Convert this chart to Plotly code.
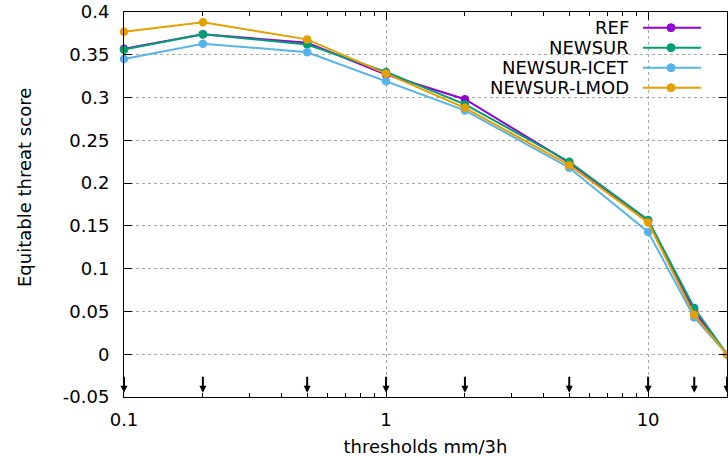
import math
import plotly.graph_objects as go

thresholds = [0.1, 0.2, 0.5, 1, 2, 5, 10, 15, 20]
series_names = ["REF", "NEWSUR", "NEWSUR-ICET", "NEWSUR-LMOD"]
ref = [0.357, 0.374, 0.364, 0.327, 0.298, 0.224, 0.156, 0.050, 0.0]
newsur = [0.356, 0.374, 0.362, 0.330, 0.292, 0.225, 0.157, 0.054, 0.0]
icet = [0.345, 0.363, 0.353, 0.319, 0.285, 0.218, 0.143, 0.043, 0.0]
lmod = [0.377, 0.388, 0.368, 0.328, 0.288, 0.221, 0.154, 0.046, 0.0]
colors = ["#9400d3", "#009e73", "#56b4e9", "#e69f00"]
yticks = [-0.05, 0, 0.05, 0.1, 0.15, 0.2, 0.25, 0.3, 0.35, 0.4]
ytick_text = ["-0.05", "0", "0.05", "0.1", "0.15", "0.2", "0.25", "0.3", "0.35", "0.4"]
xticks = [0.1, 1, 10]
xtick_text = ["0.1", "1", "10"]
x_title = "thresholds mm/3h"
y_title = "Equitable threat score"

W, H = 728, 457
ML, MR, MT, MB = 124, 1, 12, 60
FONT = "DejaVu Sans"
FS = 18

fig = go.Figure()
for name, vals, c in zip(series_names, [ref, newsur, icet, lmod], colors):
    fig.add_trace(go.Scatter(x=thresholds, y=vals, mode="lines+markers", name=name,
                             line=dict(color=c, width=2),
                             marker=dict(color=c, size=8.5, symbol="circle"),
                             cliponaxis=False, showlegend=False))

# arrows at each threshold
for t in thresholds:
    fig.add_annotation(x=math.log10(t), y=-0.045, ax=math.log10(t), ay=-0.0245,
                       xref="x", yref="y", axref="x", ayref="y",
                       showarrow=True, arrowhead=2, arrowsize=0.7, arrowwidth=2,
                       arrowcolor="black", text="")

pw = W - ML - MR
ph = H - MT - MB
def px2paper_x(px):
    return (px - ML) / pw
def px2paper_y(py):
    return 1 - (py - MT) / ph

# gnuplot-like legend (text left of line sample)
leg_y = [27.7, 47.7, 67.7, 87.7]
for name, c, yy in zip(series_names, colors, leg_y):
    fig.add_annotation(x=px2paper_x(631), y=px2paper_y(yy), xref="paper", yref="paper",
                       text=name, showarrow=False, xanchor="right", yanchor="middle",
                       font=dict(family=FONT, size=FS, color="#000000"))
    fig.add_shape(type="line", xref="paper", yref="paper",
                  x0=px2paper_x(643), x1=px2paper_x(701), y0=px2paper_y(yy), y1=px2paper_y(yy),
                  line=dict(color=c, width=2))
    r = 4
    fig.add_shape(type="circle", xref="paper", yref="paper",
                  x0=px2paper_x(671 - r), x1=px2paper_x(671 + r),
                  y0=px2paper_y(yy + r), y1=px2paper_y(yy - r),
                  fillcolor=c, line=dict(color=c, width=1))

# y axis title
fig.add_annotation(x=px2paper_x(25), y=px2paper_y(188), xref="paper", yref="paper",
                   text=y_title, textangle=-90, showarrow=False,
                   xanchor="center", yanchor="middle",
                   font=dict(family=FONT, size=FS, color="#000000"))

fig.update_layout(
    width=W, height=H,
    margin=dict(l=ML, r=MR, t=MT, b=MB, autoexpand=False),
    paper_bgcolor="white", plot_bgcolor="white",
    font=dict(family=FONT, size=FS, color="#000000"),
    showlegend=False,
)
fig.update_xaxes(
    type="log", range=[-1, math.log10(20)], automargin=False,
    tickvals=xticks, ticktext=xtick_text,
    ticks="inside", ticklen=8, tickwidth=1, tickcolor="black",
    showline=True, linecolor="black", linewidth=1, mirror="allticks",
    showgrid=True, gridcolor="#a8a8a8", griddash="dot", gridwidth=1,
    zeroline=False,
    minor=dict(ticks="inside", ticklen=4, tickcolor="black",
               tickvals=[0.2, 0.3, 0.4, 0.5, 0.6, 0.7, 0.8, 0.9, 2, 3, 4, 5, 6, 7, 8, 9],
               showgrid=False),
    title=dict(text=x_title, standoff=12, font=dict(size=FS)),
    tickfont=dict(size=FS),
    ticklabelstandoff=6,
)
fig.update_yaxes(
    range=[-0.05, 0.4], automargin=False,
    tickvals=yticks, ticktext=ytick_text,
    ticks="inside", ticklen=8, tickwidth=1, tickcolor="black",
    showline=True, linecolor="black", linewidth=1, mirror="allticks",
    showgrid=True, gridcolor="#a8a8a8", griddash="dot", gridwidth=1,
    zeroline=False,
    tickfont=dict(size=FS),
    ticklabelstandoff=10,
)

fig.write_html("out.html", config={"displayModeBar": False},
               post_script="document.body.style.margin='0';")
